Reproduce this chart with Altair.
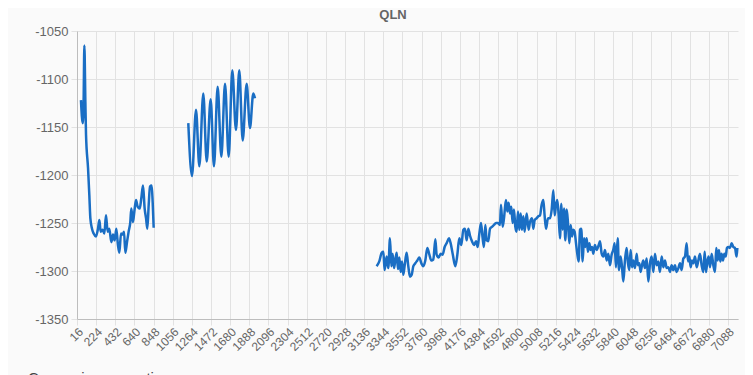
import altair as alt
import pandas as pd

# Segment 1
seg1_x = [59, 78, 88, 96, 107, 114, 136, 150, 161, 179, 197, 222, 244, 259, 273, 295, 313, 331, 349, 367,
          389, 407, 425, 443, 461, 476, 494, 512, 527, 541, 559, 577, 595, 606, 624, 639, 657, 675, 697, 715,
          733, 751, 766, 780, 795, 809, 827, 838, 849]
seg1_y = [-1122, -1146, -1122, -1065, -1124, -1158, -1193, -1221, -1245, -1256, -1261, -1264, -1256, -1247, -1259,
          -1257, -1261, -1242, -1259, -1256, -1270, -1262, -1268, -1256, -1273, -1281, -1261, -1262, -1259, -1281,
          -1270, -1259, -1249, -1235, -1249, -1238, -1226, -1233, -1235, -1224, -1211, -1235, -1245, -1256, -1231,
          -1212, -1211, -1228, -1255]

# Segment 2
seg2_x = [1225, 1265, 1309, 1345, 1388, 1425, 1468, 1504, 1544, 1584, 1624, 1664, 1703, 1743, 1779, 1816,
          1859, 1895, 1931, 1950]
seg2_y = [-1146, -1201, -1132, -1191, -1115, -1186, -1121, -1191, -1108, -1181, -1105, -1181, -1091, -1153,
          -1091, -1164, -1105, -1151, -1115, -1120]

# Segment 3
seg3_x = [3271, 3300, 3326, 3344, 3358, 3380, 3398, 3416, 3431, 3445, 3460, 3474, 3489, 3503, 3518, 3532,
          3547, 3561, 3576, 3597, 3615, 3634, 3652, 3670, 3691, 3713, 3735, 3757, 3778, 3800, 3822, 3844,
          3865, 3887, 3909, 3923, 3945, 3967, 3988, 4010, 4032, 4057, 4075, 4097, 4126, 4148, 4169, 4191,
          4213, 4231, 4249, 4267, 4285, 4307, 4329, 4351, 4369, 4387, 4405, 4423, 4437, 4452, 4466, 4484,
          4503, 4524, 4546, 4568, 4589, 4611, 4622, 4640, 4655, 4676, 4691, 4705, 4720, 4734, 4749, 4763,
          4778, 4792, 4807, 4821, 4836, 4850, 4865, 4879, 4901, 4923, 4937, 4959, 4973, 4988, 5010, 5028,
          5046, 5064, 5082, 5096, 5111, 5133, 5155, 5173, 5191, 5205, 5220, 5234, 5249, 5263, 5278, 5292,
          5307, 5321, 5336, 5350, 5365, 5379, 5394, 5408, 5422, 5437, 5451, 5466, 5480, 5495, 5509, 5524,
          5538, 5553, 5567, 5582, 5596, 5611, 5625, 5643, 5661, 5683, 5698, 5716, 5734, 5752, 5770, 5788,
          5806, 5824, 5842, 5857, 5871, 5890, 5904, 5922, 5937, 5951, 5969, 5987, 6002, 6016, 6031, 6045,
          6060, 6078, 6096, 6110, 6125, 6139, 6154, 6168, 6186, 6205, 6223, 6241, 6259, 6277, 6295, 6313,
          6331, 6349, 6368, 6386, 6404, 6422, 6440, 6458, 6476, 6494, 6512, 6530, 6549, 6567, 6585, 6603,
          6621, 6639, 6654, 6668, 6683, 6697, 6712, 6730, 6748, 6766, 6784, 6802, 6820, 6835, 6849, 6864,
          6878, 6893, 6911, 6929, 6947, 6961, 6976, 6990, 7005, 7019, 7034, 7048, 7063, 7077, 7092, 7110,
          7128, 7146, 7164, 7182, 7190]
seg3_y = [-1295, -1290, -1281, -1280, -1299, -1285, -1297, -1266, -1295, -1282, -1297, -1289, -1281, -1298,
          -1286, -1301, -1290, -1304, -1294, -1281, -1295, -1306, -1304, -1295, -1292, -1289, -1286, -1292,
          -1295, -1289, -1276, -1283, -1289, -1288, -1267, -1283, -1286, -1282, -1283, -1275, -1271, -1266,
          -1271, -1282, -1295, -1283, -1266, -1273, -1257, -1256, -1268, -1256, -1263, -1269, -1273, -1269,
          -1275, -1261, -1250, -1266, -1275, -1252, -1268, -1269, -1256, -1254, -1252, -1250, -1250, -1252,
          -1231, -1254, -1245, -1226, -1238, -1229, -1240, -1233, -1250, -1236, -1254, -1259, -1238, -1257,
          -1240, -1257, -1243, -1259, -1240, -1257, -1249, -1245, -1256, -1247, -1245, -1243, -1242, -1231,
          -1226, -1242, -1256, -1245, -1245, -1236, -1216, -1242, -1231, -1226, -1243, -1266, -1230, -1257,
          -1235, -1268, -1236, -1250, -1271, -1252, -1264, -1257, -1259, -1271, -1282, -1290, -1257, -1256,
          -1290, -1266, -1275, -1266, -1280, -1271, -1278, -1275, -1282, -1273, -1278, -1273, -1269, -1282,
          -1285, -1278, -1289, -1282, -1294, -1283, -1278, -1271, -1296, -1266, -1299, -1285, -1296, -1311,
          -1289, -1276, -1292, -1299, -1278, -1296, -1289, -1297, -1282, -1294, -1292, -1301, -1294, -1289,
          -1297, -1287, -1311, -1292, -1285, -1301, -1282, -1294, -1290, -1301, -1285, -1296, -1289, -1297,
          -1296, -1301, -1294, -1299, -1294, -1301, -1297, -1292, -1299, -1287, -1285, -1271, -1290, -1285,
          -1296, -1289, -1292, -1285, -1296, -1289, -1282, -1294, -1301, -1280, -1301, -1290, -1285, -1296,
          -1282, -1294, -1301, -1276, -1289, -1278, -1290, -1282, -1289, -1282, -1285, -1276, -1275, -1276,
          -1271, -1275, -1276, -1285, -1276]

x_ticks = list(range(16, 7089, 208))
y_ticks = [-1350, -1300, -1250, -1200, -1150, -1100, -1050]
title_text = "QLN"
caption_text = "Comparison over time"

rows = []
for name, xs, ys in [("s1", seg1_x, seg1_y), ("s2", seg2_x, seg2_y), ("s3", seg3_x, seg3_y)]:
    for xv, yv in zip(xs, ys):
        rows.append({"seg": name, "x": xv, "y": yv})
df = pd.DataFrame(rows)

GRID = "#e2e2e2"
FONT = "Liberation Sans"

line = alt.Chart(df).mark_line(color="#1a6ec4", strokeWidth=2.5, interpolate="monotone").encode(
    x=alt.X("x:Q",
            scale=alt.Scale(domain=[16, 7197], nice=False, zero=False),
            axis=alt.Axis(values=x_ticks, labelAngle=-45, title=None, grid=True, gridColor=GRID,
                          domainColor="#bdbdbd", tickColor=GRID, tickSize=6, labelColor="#666",
                          labelFontSize=12, labelFont=FONT, labelOverlap=False, labelPadding=1,
                          labelBound=False, labelFlush=False, labelExpr="'' + datum.value")),
    y=alt.Y("y:Q",
            scale=alt.Scale(domain=[-1350, -1050], nice=False, zero=False),
            axis=alt.Axis(values=y_ticks, title=None, grid=True, gridColor=GRID, domainColor="#bdbdbd",
                          tickColor=GRID, tickSize=6, labelColor="#666", labelFontSize=13, labelFont=FONT,
                          labelPadding=3, labelExpr="'' + datum.value")),
    detail="seg:N",
)

texts = pd.DataFrame({"t": [title_text]})
title = alt.Chart(texts).mark_text(
    align="center", baseline="middle", fontSize=13, font=FONT, color="#666", fontWeight="bold"
).encode(x=alt.value(316), y=alt.value(-16), text="t:N")

caption = alt.Chart(pd.DataFrame({"t": [caption_text]})).mark_text(
    align="left", baseline="top", fontSize=15, font=FONT, color="#444"
).encode(x=alt.value(-49), y=alt.value(340), text="t:N")

chart = alt.layer(line, title, caption).properties(
    width=661, height=288,
    autosize=alt.AutoSizeParams(type="none"),
    padding={"left": 69, "top": 23, "right": 7, "bottom": 80},
    background="#fafafa",
).configure_view(stroke=None)

chart.save("out.html", embed_options={"renderer": "svg", "actions": False})
